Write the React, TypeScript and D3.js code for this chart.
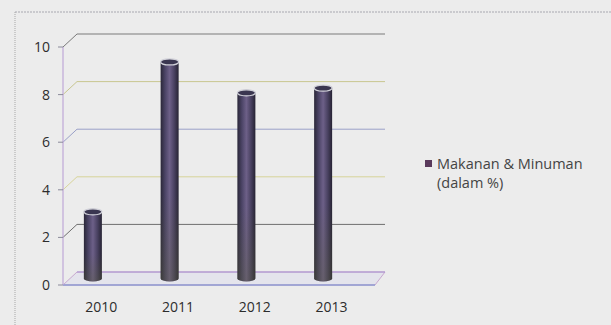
import React from "react";
import * as d3 from "d3";

const categories = ["2010", "2011", "2012", "2013"];
const values = [2.8, 9.1, 7.8, 8.0];
const yTicks = [0, 2, 4, 6, 8, 10];
const seriesName = ["Makanan & Minuman", "(dalam %)"];
const gridColors = ["#9aa8d8", "#6e6e6e", "#d8d49a", "#9aa0c8", "#c8c690", "#7a7a7a"];

export default function App() {
  const W = 611, H = 325;
  const y = d3.scaleLinear().domain([0, 10]).range([285, 47]);
  const x = d3.scaleBand().domain(categories).range([63, 370]);
  const depthX = 14, depthY = -13;
  const axisX = 63, backRight = 385;
  const barW = 18, ry = 3;
  const midDy = depthY / 2;
  const font = "'Open Sans', sans-serif";

  return (
    <svg width={W} height={H} style={{ position: "absolute", left: 0, top: 0 }} xmlns="http://www.w3.org/2000/svg">
      <defs>
        <linearGradient id="cyl" x1="0" x2="1" y1="0" y2="0">
          <stop offset="0%" stopColor="#2a2738" />
          <stop offset="25%" stopColor="#4b4466" />
          <stop offset="50%" stopColor="#6d6088" />
          <stop offset="75%" stopColor="#4a4262" />
          <stop offset="100%" stopColor="#262333" />
        </linearGradient>
        <linearGradient id="shade" x1="0" x2="0" y1="0" y2="1">
          <stop offset="0%" stopColor="#5a4a70" stopOpacity="0" />
          <stop offset="60%" stopColor="#5a5a3a" stopOpacity="0" />
          <stop offset="100%" stopColor="#5a5e3a" stopOpacity="0.35" />
        </linearGradient>
      </defs>
      <rect x={0} y={0} width={W} height={H} fill="#ececec" />
      {/* outer frame */}
      <line x1={15} y1={12} x2={W} y2={12} stroke="#a8a8b0" strokeWidth={1} strokeDasharray="2,1" />
      <line x1={15} y1={12} x2={15} y2={H} stroke="#a8a8a8" strokeWidth={1} strokeDasharray="1,1" />

      {/* floor */}
      <path
        d={`M${axisX},${y(0)} L${375},${y(0)} L${backRight},${y(0) + depthY} L${axisX + depthX},${y(0) + depthY} Z`}
        fill="#e4e4ec"
        stroke="#c8a8d0"
        strokeWidth={1}
      />
      <line x1={axisX} y1={y(0)} x2={375} y2={y(0)} stroke="#8f9ad0" strokeWidth={1.5} />
      <line x1={axisX + depthX} y1={y(0) + depthY} x2={backRight} y2={y(0) + depthY} stroke="#a890d0" strokeWidth={1} />

      {/* back gridlines and side diagonals */}
      {yTicks.filter((t) => t > 0).map((t, i) => (
        <g key={t}>
          <line x1={axisX + depthX} y1={y(t) + depthY} x2={backRight} y2={y(t) + depthY} stroke={gridColors[i + 1]} strokeWidth={1} />
          <line x1={axisX} y1={y(t)} x2={axisX + depthX} y2={y(t) + depthY} stroke={gridColors[i + 1]} strokeWidth={1} />
        </g>
      ))}
      {/* left axis */}
      <line x1={axisX} y1={y(10)} x2={axisX} y2={y(0)} stroke="#c0a8d8" strokeWidth={1.2} />
      {yTicks.map((t) => (
        <line key={t} x1={axisX - 5} y1={y(t)} x2={axisX} y2={y(t)} stroke="#8a8a9a" strokeWidth={1} />
      ))}
      {yTicks.map((t) => (
        <text key={t} x={axisX - 13} y={y(t)} dy="0.35em" textAnchor="end" fontFamily={font} fontSize={14} fill="#2c2c2c">
          {t}
        </text>
      ))}

      {/* cylinders */}
      {categories.map((c, i) => {
        const cx = (x(c) as number) + x.bandwidth() / 2 - 8.5;
        const base = y(0) + midDy;
        const top = y(values[i]) + midDy;
        const left = cx - barW / 2;
        const body = `M${left},${top} L${left},${base} A${barW / 2},${ry} 0 0 0 ${left + barW},${base} L${left + barW},${top} Z`;
        return (
          <g key={c}>
            <path d={body} fill="url(#cyl)" />
            <path d={body} fill="url(#shade)" />
            <ellipse cx={cx} cy={top} rx={barW / 2} ry={ry} fill="#3a3650" stroke="#d0d0d8" strokeWidth={1.2} />
          </g>
        );
      })}

      {/* category labels */}
      {categories.map((c) => (
        <text key={c} x={(x(c) as number) + x.bandwidth() / 2} y={307} dy="0.35em" textAnchor="middle" fontFamily={font} fontSize={14} fill="#2c2c2c">
          {c}
        </text>
      ))}

      {/* legend */}
      <rect x={425} y={160} width={7} height={7} fill="#5a3a5c" />
      <text x={437} y={163.5} dy="0.35em" fontFamily={font} fontSize={14.5} fill="#444">
        {seriesName[0]}
      </text>
      <text x={437} y={183} dy="0.35em" fontFamily={font} fontSize={14.5} fill="#444">
        {seriesName[1]}
      </text>
    </svg>
  );
}
